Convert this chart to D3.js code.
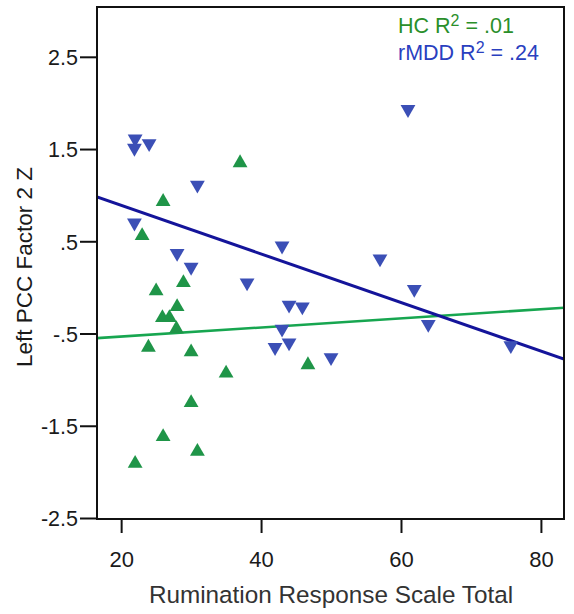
<!DOCTYPE html>
<html><head><meta charset="utf-8">
<script src="https://cdn.jsdelivr.net/npm/d3@7"></script>
<style>body{margin:0;background:#fff}</style>
</head><body>
<svg id="c" width="574" height="614"></svg>
<script>
// Data
const hcX = [37.0,26.0,23.0,28.9,25.0,28.0,25.9,26.9,27.9,23.9,30.0,35.0,46.7,30.0,26.0,30.9,22.0];
const hcY = [1.35,0.93,0.56,0.05,-0.04,-0.21,-0.33,-0.33,-0.45,-0.65,-0.70,-0.93,-0.84,-1.25,-1.62,-1.78,-1.91];
const mddX = [22.0,21.9,24.0,30.9,21.9,28.0,30.0,38.0,43.0,44.0,45.9,43.0,42.0,44.0,50.0,57.0,61.0,61.9,63.9,75.7];
const mddY = [1.61,1.51,1.56,1.11,0.70,0.37,0.22,0.05,0.45,-0.19,-0.21,-0.45,-0.65,-0.60,-0.76,0.31,1.93,-0.02,-0.40,-0.63];
// fitted lines: [intercept, slope]
const hcFit = [-0.632, 0.00494];
const mddFit = [1.417, -0.02635];
const xTicks = [20,40,60,80];
const yTicks = [2.5,1.5,0.5,-0.5,-1.5,-2.5];
const yTickLabels = ["2.5","1.5",".5","-.5","-1.5","-2.5"];
const legend = [{name:"HC", r2:".01"},{name:"rMDD", r2:".24"}];

const svg = d3.select("#c");
const L=97, R=564, T=7, B=519;
const x = d3.scaleLinear().domain([16.55,83.3]).range([L,R]);
const y = d3.scaleLinear().domain([-2.5,3.04]).range([518,T]);
const font = "Liberation Sans, Arial, sans-serif";

const green="#1f9548", blue="#3b4fb6", greenLine="#17a650", blueLine="#14149a";

// regression lines
svg.append("clipPath").attr("id","cp").append("rect").attr("x",L).attr("y",T).attr("width",R-L).attr("height",B-T);
const gl = svg.append("g").attr("clip-path","url(#cp)");
const xd = x.domain();
gl.append("line").attr("x1",x(xd[0])).attr("x2",x(xd[1]))
  .attr("y1",y(hcFit[0]+hcFit[1]*xd[0])).attr("y2",y(hcFit[0]+hcFit[1]*xd[1]))
  .attr("stroke",greenLine).attr("stroke-width",2.6);
gl.append("line").attr("x1",x(xd[0])).attr("x2",x(xd[1]))
  .attr("y1",y(mddFit[0]+mddFit[1]*xd[0])).attr("y2",y(mddFit[0]+mddFit[1]*xd[1]))
  .attr("stroke",blueLine).attr("stroke-width",3);

// points
const tri = d3.symbol().type(d3.symbolTriangle).size(95);
svg.append("g").selectAll("path").data(mddX.map((v,i)=>[v,mddY[i]])).join("path")
  .attr("d",tri).attr("fill",blue)
  .attr("transform",d=>`translate(${x(d[0])},${y(d[1])}) rotate(180)`);
svg.append("g").selectAll("path").data(hcX.map((v,i)=>[v,hcY[i]])).join("path")
  .attr("d",tri).attr("fill",green)
  .attr("transform",d=>`translate(${x(d[0])},${y(d[1])})`);

// frame
svg.append("rect").attr("x",L).attr("y",T).attr("width",R-L).attr("height",B-T)
  .attr("fill","none").attr("stroke","#111").attr("stroke-width",2);

// y axis
const ya = d3.axisLeft(y).tickValues(yTicks).tickSize(17).tickFormat((d,i)=>yTickLabels[i]);
const gy = svg.append("g").attr("transform",`translate(${L},0)`).call(ya);
gy.select(".domain").remove();
gy.selectAll(".tick line").attr("stroke","#111").attr("stroke-width",2);
gy.selectAll(".tick text").attr("font-family",font).attr("font-size",21.5).attr("fill","#1a1a1a").attr("x",-19).attr("dy","0.36em");

// x axis
const xa = d3.axisBottom(x).tickValues(xTicks).tickSize(14);
const gx = svg.append("g").attr("transform",`translate(0,${B})`).call(xa);
gx.select(".domain").remove();
gx.selectAll(".tick line").attr("stroke","#111").attr("stroke-width",2);
gx.selectAll(".tick text").attr("font-family",font).attr("font-size",22).attr("fill","#1a1a1a").attr("y",48).attr("dy",0);

// titles
svg.append("text").attr("x",331).attr("y",603).attr("text-anchor","middle")
  .attr("font-family",font).attr("font-size",24.3).attr("fill","#333").text("Rumination Response Scale Total");
svg.append("text").attr("transform","translate(32,267) rotate(-90)").attr("text-anchor","middle")
  .attr("font-family",font).attr("font-size",22.5).attr("fill","#1a1a1a").text("Left PCC Factor 2 Z");

// legend
const lg = svg.append("g").attr("font-family",font).attr("font-size",21.5);
[[legend[0],"#2a8f2a",398,33],[legend[1],"#2a3fbf",398,60]].forEach(([d,c,lx,ly])=>{
  const t = lg.append("text").attr("x",lx).attr("y",ly).attr("fill",c);
  t.append("tspan").text(d.name+" R");
  t.append("tspan").attr("dy",-7.5).attr("font-size",16).text("2");
  t.append("tspan").attr("dy",7.5).text(" = "+d.r2);
});
</script>
</body></html>
